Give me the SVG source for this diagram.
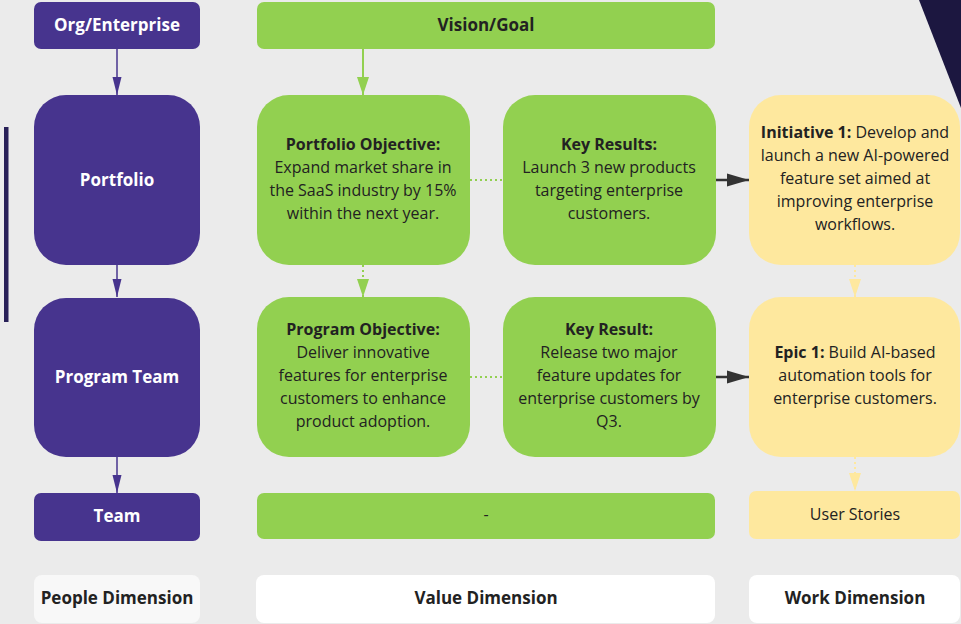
<svg xmlns="http://www.w3.org/2000/svg" width="961" height="624" viewBox="0 0 961 624">
<style>
text{font-family:"Open Sans","Noto Sans","Liberation Sans",sans-serif;text-anchor:middle}
.w{fill:#ffffff;font-weight:bold;font-size:17px}
.b{fill:#222222;font-size:16px}
.bb{font-weight:bold}
.d{fill:#222222;font-weight:bold;font-size:17px}
.p{fill:#47348e}
.g{fill:#92d050}
.y{fill:#fee89e}
</style>
<defs>
<marker id="ap" markerUnits="userSpaceOnUse" markerWidth="18" markerHeight="10" refX="18" refY="5" orient="auto"><path d="M0,0.5 L18,5 L0,9.5 z" fill="#47348e"/></marker>
<marker id="ag" markerUnits="userSpaceOnUse" markerWidth="18" markerHeight="14" refX="18" refY="7" orient="auto"><path d="M0,1 L18,7 L0,13 z" fill="#92d050"/></marker>
<marker id="ay" markerUnits="userSpaceOnUse" markerWidth="18" markerHeight="14" refX="18" refY="7" orient="auto"><path d="M0,1 L18,7 L0,13 z" fill="#fee89e"/></marker>
<marker id="ak" markerUnits="userSpaceOnUse" markerWidth="23" markerHeight="14" refX="22" refY="7" orient="auto"><path d="M0,0.5 L22,7 L0,13.5 z" fill="#333333"/></marker>
</defs>
<rect x="0" y="0" width="961" height="624" fill="#ebebeb"/>
<polygon points="919,0 961,0 961,108" fill="#1c1740"/>
<rect x="4" y="127" width="4.5" height="195" fill="#282057"/>

<g id="connectors" fill="none">
<line x1="117" y1="49" x2="117" y2="95" stroke="#47348e" stroke-width="1.5" marker-end="url(#ap)"/>
<line x1="117" y1="265" x2="117" y2="297" stroke="#47348e" stroke-width="1.5" marker-end="url(#ap)"/>
<line x1="117" y1="457" x2="117" y2="493" stroke="#47348e" stroke-width="1.5" marker-end="url(#ap)"/>
<line x1="363" y1="49" x2="363" y2="95" stroke="#92d050" stroke-width="2" marker-end="url(#ag)"/>
<line x1="363" y1="265" x2="363" y2="297" stroke="#92d050" stroke-width="2" stroke-dasharray="2,3" marker-end="url(#ag)"/>
<line x1="470" y1="180" x2="503" y2="180" stroke="#92d050" stroke-width="2" stroke-dasharray="2,3"/>
<line x1="470" y1="377" x2="503" y2="377" stroke="#92d050" stroke-width="2" stroke-dasharray="2,3"/>
<line x1="716" y1="180" x2="749" y2="180" stroke="#333333" stroke-width="2.5" marker-end="url(#ak)"/>
<line x1="716" y1="377" x2="749" y2="377" stroke="#333333" stroke-width="2.5" marker-end="url(#ak)"/>
<line x1="855" y1="265" x2="855" y2="297" stroke="#fee89e" stroke-width="2" stroke-dasharray="2,3" marker-end="url(#ay)"/>
<line x1="855" y1="457" x2="855" y2="491" stroke="#fee89e" stroke-width="2" stroke-dasharray="2,3" marker-end="url(#ay)"/>
</g>

<g id="org"><rect class="p" x="34" y="2" width="166" height="47" rx="7"/><text class="w" x="117" y="31">Org/Enterprise</text></g>
<g id="portfolio"><rect class="p" x="34" y="95" width="166" height="170" rx="32"/><text class="w" x="117" y="186">Portfolio</text></g>
<g id="programteam"><rect class="p" x="34" y="298" width="166" height="159" rx="32"/><text class="w" x="117" y="383">Program Team</text></g>
<g id="team"><rect class="p" x="34" y="493" width="166" height="48" rx="7"/><text class="w" x="117" y="522">Team</text></g>

<g id="vision"><rect class="g" x="257" y="2" width="458" height="47" rx="7"/><text class="d" x="486" y="31">Vision/Goal</text></g>
<g id="portfolioobjective"><rect class="g" x="257" y="95" width="213" height="170" rx="32"/>
<text class="b" x="363"><tspan class="bb" x="363" y="150">Portfolio Objective:</tspan><tspan x="363" y="173">Expand market share in</tspan><tspan x="363" y="196">the SaaS industry by 15%</tspan><tspan x="363" y="219">within the next year.</tspan></text></g>
<g id="keyresults"><rect class="g" x="503" y="95" width="213" height="170" rx="32"/>
<text class="b" x="609"><tspan class="bb" x="609" y="150">Key Results:</tspan><tspan x="609" y="173">Launch 3 new products</tspan><tspan x="609" y="196">targeting enterprise</tspan><tspan x="609" y="219">customers.</tspan></text></g>
<g id="initiative"><rect class="y" x="749" y="95" width="211" height="170" rx="32"/>
<text class="b" x="855"><tspan x="855" y="138"><tspan class="bb">Initiative 1:</tspan> Develop and</tspan><tspan x="855" y="161">launch a new AI-powered</tspan><tspan x="855" y="184">feature set aimed at</tspan><tspan x="855" y="207">improving enterprise</tspan><tspan x="855" y="230">workflows.</tspan></text></g>

<g id="programobjective"><rect class="g" x="257" y="297" width="213" height="160" rx="32"/>
<text class="b" x="363"><tspan class="bb" x="363" y="335">Program Objective:</tspan><tspan x="363" y="358">Deliver innovative</tspan><tspan x="363" y="381">features for enterprise</tspan><tspan x="363" y="404">customers to enhance</tspan><tspan x="363" y="427">product adoption.</tspan></text></g>
<g id="keyresult"><rect class="g" x="503" y="297" width="213" height="160" rx="32"/>
<text class="b" x="609"><tspan class="bb" x="609" y="335">Key Result:</tspan><tspan x="609" y="358">Release two major</tspan><tspan x="609" y="381">feature updates for</tspan><tspan x="609" y="404">enterprise customers by</tspan><tspan x="609" y="427">Q3.</tspan></text></g>
<g id="epic"><rect class="y" x="749" y="297" width="211" height="160" rx="32"/>
<text class="b" x="855"><tspan x="855" y="358"><tspan class="bb">Epic 1:</tspan> Build AI-based</tspan><tspan x="855" y="381">automation tools for</tspan><tspan x="855" y="404">enterprise customers.</tspan></text></g>

<g id="teamvalue"><rect class="g" x="257" y="493" width="458" height="46" rx="7"/><text class="b" x="486" y="520">-</text></g>
<g id="userstories"><rect class="y" x="749" y="491" width="211" height="48" rx="7"/><text class="b" x="855" y="520">User Stories</text></g>

<g id="peopledim"><rect x="34" y="575" width="166" height="48" rx="8" fill="#f8f8f8"/><text class="d" x="117" y="604">People Dimension</text></g>
<g id="valuedim"><rect x="256" y="575" width="459" height="48" rx="8" fill="#ffffff"/><text class="d" x="486" y="604">Value Dimension</text></g>
<g id="workdim"><rect x="749" y="575" width="211" height="48" rx="8" fill="#ffffff"/><text class="d" x="855" y="604">Work Dimension</text></g>
</svg>
